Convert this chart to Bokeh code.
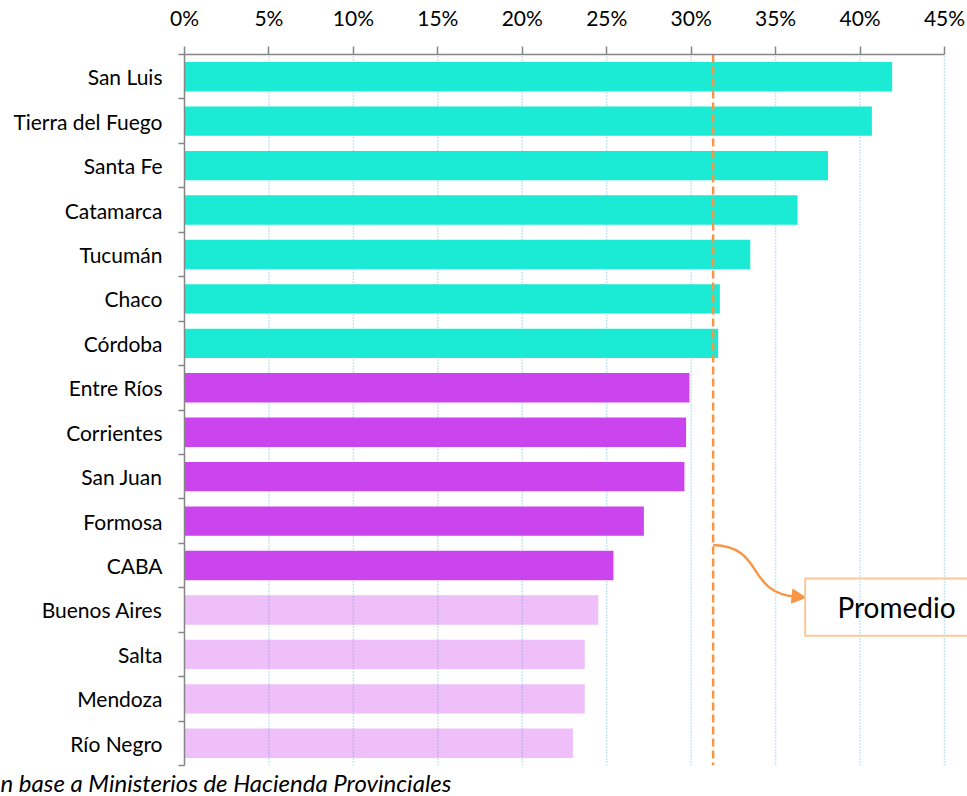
from bokeh.plotting import figure
from bokeh.models import (Range1d, FixedTicker, PrintfTickFormatter, Arrow, NormalHead,
                          Label, BoxAnnotation, ColumnDataSource, Title)
from bokeh.embed import file_html
from bokeh.resources import INLINE

provinces = ["San Luis", "Tierra del Fuego", "Santa Fe", "Catamarca", "Tucumán", "Chaco",
             "Córdoba", "Entre Ríos", "Corrientes", "San Juan", "Formosa", "CABA",
             "Buenos Aires", "Salta", "Mendoza", "Río Negro"]
values = [41.9, 40.7, 38.1, 36.3, 33.5, 31.7, 31.6, 29.9, 29.7, 29.6, 27.2, 25.4,
          24.5, 23.7, 23.7, 23.0]
groups = ["alto"] * 7 + ["medio"] * 5 + ["bajo"] * 4
average = 31.3
x_ticks = [0, 5, 10, 15, 20, 25, 30, 35, 40, 45]
source_note = "n base a Ministerios de Hacienda Provinciales"
avg_label = "Promedio"

FONT = "Lato"
group_color = {"alto": "#1BEBD5", "medio": "#CA45EE", "bajo": "#CC44EE"}
group_alpha = {"alto": 1.0, "medio": 1.0, "bajo": 0.34}

n = len(provinces)
centers = [n - i - 0.5 for i in range(n)]

# plot geometry (pixels)
W, H = 967, 796
LEFT, TOP = 184, 54
PX_PER_PCT = 760 / 45.0
x_end = (W - LEFT) / PX_PER_PCT

src = ColumnDataSource(dict(
    y=centers, right=values,
    color=[group_color[g] for g in groups],
    alpha=[group_alpha[g] for g in groups],
))

p = figure(width=W, height=H, x_range=Range1d(0, x_end), y_range=Range1d(0, n),
           x_axis_location="above", output_backend="svg", toolbar_location=None,
           min_border_left=LEFT, min_border_top=TOP, min_border_right=0, min_border_bottom=0)
p.outline_line_color = None
p.background_fill_color = "white"
p.xgrid.grid_line_color = None
p.ygrid.grid_line_color = None

# source note (cropped at the left in the original)
p.add_layout(Title(text=source_note, align="left", offset=-LEFT, standoff=0,
                   text_font=FONT, text_font_size="24px", text_font_style="italic",
                   text_color="black"), "below")

# dotted vertical grid, limited to the category band
gx = x_ticks[1:]
p.segment(x0=gx, x1=gx, y0=[0] * len(gx), y1=[n] * len(gx),
          line_color="#8ECFE0", line_dash="1 2", line_width=1.5)

p.hbar(y="y", right="right", left=0, height=0.66, fill_color="color", fill_alpha="alpha",
       line_color=None, source=src)

# x axis (top)
xa = p.xaxis[0]
xa.bounds = (0, 45)
xa.ticker = FixedTicker(ticks=x_ticks, minor_ticks=[])
xa.formatter = PrintfTickFormatter(format="%d%%")
xa.axis_line_color = "#868686"
xa.axis_line_width = 1.5
xa.major_tick_line_color = "#868686"
xa.major_tick_line_width = 1.5
xa.major_tick_out = 8
xa.major_tick_in = 0
xa.minor_tick_line_color = None
xa.major_label_text_font = FONT
xa.major_label_text_font_size = "21px"
xa.major_label_text_color = "black"
xa.major_label_standoff = 17

# y axis (left) with ticks at category boundaries
ya = p.yaxis[0]
ya.bounds = (0, n)
ya.ticker = FixedTicker(ticks=centers, minor_ticks=list(range(n + 1)))
ya.major_label_overrides = {c: name for c, name in zip(centers, provinces)}
ya.axis_line_color = "#868686"
ya.axis_line_width = 1.5
ya.major_tick_line_color = None
ya.major_tick_out = 0
ya.major_tick_in = 0
ya.minor_tick_line_color = "#868686"
ya.minor_tick_line_width = 1.5
ya.minor_tick_out = 6
ya.minor_tick_in = 0
ya.major_label_text_font = FONT
ya.major_label_text_font_size = "21px"
ya.major_label_text_color = "black"
ya.major_label_standoff = 16

orange = "#F79646"
# average line
p.segment(x0=[average], x1=[average], y0=[n], y1=[0],
          line_color=orange, line_width=2.5, line_dash="8 4")

# curved connector
p.bezier(x0=[average], y0=[4.96], x1=[36.2], y1=[3.80], cx0=[34.4], cy0=[4.92],
         cx1=[33.2], cy1=[3.89], line_color=orange, line_width=2.5)
p.add_layout(Arrow(x_start=36.0, y_start=3.81, x_end=36.8, y_end=3.78,
                   end=NormalHead(size=14, fill_color=orange, line_color=orange),
                   line_color=orange, line_width=2.5))

# Promedio box (no fill: grid shows through)
p.add_layout(BoxAnnotation(left=36.75, right=x_end + 2, top=4.21, bottom=2.92,
                           fill_color=None, fill_alpha=0,
                           line_color="#FBC79B", line_width=2, line_alpha=1.0))
p.add_layout(Label(x=38.66, y=3.56, text=avg_label, text_baseline="middle", text_align="left",
                   text_font=FONT, text_font_size="28px", text_color="black"))

open("out.html", "w").write(file_html(p, INLINE))
